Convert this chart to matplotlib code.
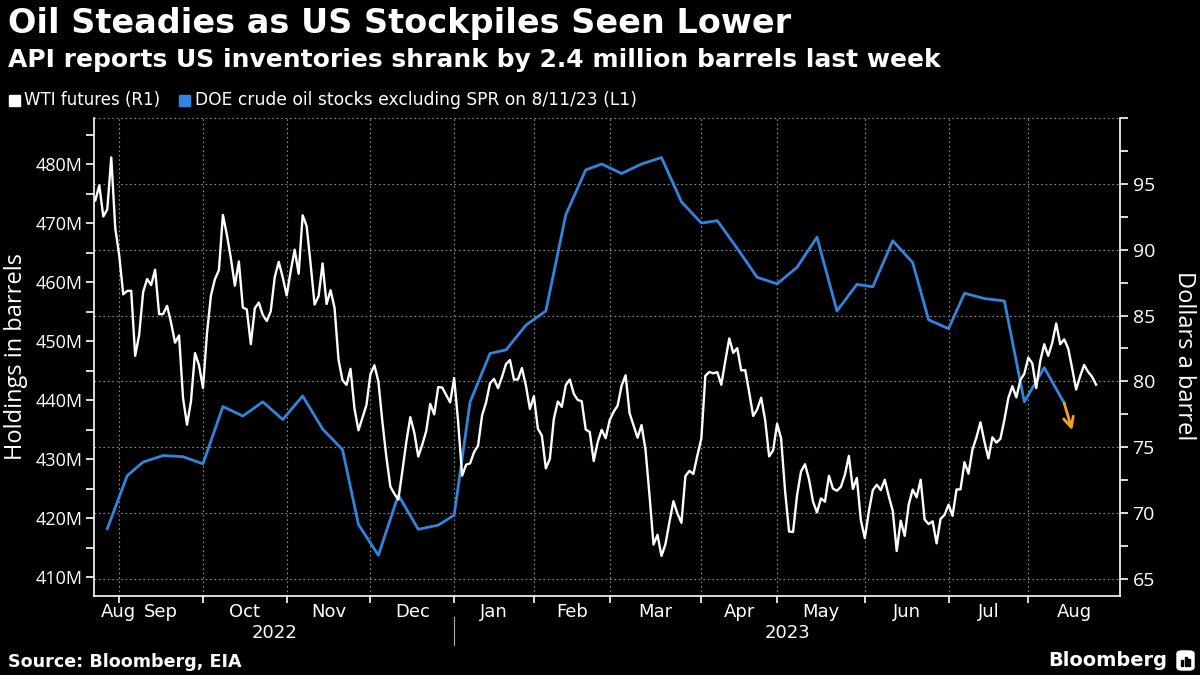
import numpy as np
import pandas as pd
import matplotlib
matplotlib.use('Agg')
from matplotlib import pyplot as plt
from matplotlib import transforms
from matplotlib.patches import Rectangle, FancyBboxPatch

# ---- data -------------------------------------------------------------
# US market holidays (no WTI settlement) inside the plotted year
holidays = ['2022-09-05', '2022-11-24', '2022-12-26', '2023-01-02', '2023-01-16',
            '2023-02-20', '2023-04-07', '2023-05-29', '2023-06-19', '2023-07-04']
first_day = '2022-08-23'
last_day = '2023-08-23'

# WTI front-month, dollars a barrel, one value per trading day
wti = [
    93.74, 94.89, 92.52, 93.06, 97.01, 91.64, 89.55,                       # Aug 22
    86.61, 86.87, 86.88, 81.94, 83.54, 86.79, 87.78, 87.31, 88.48, 85.10,  # Sep 22
    85.11, 85.73, 84.45, 82.94, 83.49, 78.74, 76.71, 78.50, 82.15, 81.23, 79.49,
    83.63, 86.52, 87.76, 88.45, 92.64, 91.13, 89.35, 87.27, 89.11, 85.61,  # Oct 22
    85.46, 82.82, 85.55, 85.98, 85.05, 84.58, 85.32, 87.91, 89.08, 87.90, 86.53,
    88.37, 90.00, 88.17, 92.61, 91.79, 88.91, 85.83, 86.47, 88.96, 85.87,  # Nov 22
    86.92, 85.59, 81.64, 80.08, 79.73, 80.95, 77.94, 76.28, 77.24, 78.20, 80.55,
    81.22, 79.98, 76.93, 74.25, 72.01, 71.46, 71.02, 73.17, 75.39, 77.28,  # Dec 22
    76.11, 74.29, 75.19, 76.23, 78.29, 77.49, 79.56, 79.53, 78.96, 78.40, 80.26,
    76.93, 72.84, 73.67, 73.77, 74.63, 75.12, 77.41, 78.39, 79.86, 80.18,  # Jan 23
    79.48, 80.33, 81.31, 81.62, 80.13, 80.15, 81.01, 79.68, 77.90, 78.87,
    76.41, 75.88, 73.39, 74.11, 77.14, 78.47, 78.06, 79.72, 80.14, 79.06,  # Feb 23
    78.59, 78.49, 76.34, 76.16, 73.95, 75.39, 76.32, 75.68, 77.05,
    77.69, 78.16, 79.68, 80.46, 77.58, 76.66, 75.72, 76.68, 74.80, 71.33,  # Mar 23
    67.61, 68.35, 66.74, 67.64, 69.33, 70.90, 69.96, 69.26, 72.81, 73.20,
    72.97, 74.37, 75.67,
    80.42, 80.71, 80.61, 80.70, 79.74, 81.53, 83.26, 82.16, 82.52, 80.83,  # Apr 23
    80.86, 79.16, 77.37, 77.87, 78.76, 77.07, 74.30, 74.76, 76.78,
    75.66, 71.66, 68.60, 68.56, 71.34, 73.16, 73.71, 72.56, 70.87, 70.04,  # May 23
    71.11, 70.86, 72.83, 71.86, 71.69, 71.99, 72.91, 74.34, 71.83, 72.67,
    69.46, 68.09,
    70.10, 71.74, 72.15, 71.74, 72.53, 71.29, 70.17, 67.12, 69.42, 68.27,  # Jun 23
    70.62, 71.78, 71.19, 72.53, 69.51, 69.16, 69.37, 67.70, 69.56, 69.86, 70.64,
    69.79, 71.79, 71.80, 73.86, 72.99, 74.83, 75.75, 76.89, 75.42, 74.15,  # Jul 23
    75.75, 75.35, 75.63, 77.07, 78.74, 79.63, 78.78, 80.09, 80.58, 81.80,
    81.37, 79.49, 81.55, 82.82, 81.94, 82.92, 84.40, 82.82, 83.19, 82.51,  # Aug 23
    80.99, 79.38, 80.39, 81.25, 80.72, 80.35, 79.75,
]

# DOE commercial crude stocks (ex SPR), million barrels, week ending Friday
doe_first_week = '2022-08-26'
doe_last_week = '2023-08-11'
doe_stocks = [
    418.2, 427.2, 429.5, 430.6, 430.4, 429.2, 438.9, 437.3, 439.7, 436.7,
    440.7, 435.1, 431.6, 418.9, 413.7, 423.9, 418.1, 418.8, 420.5, 439.7,
    447.9, 448.5, 452.7, 455.1, 471.4, 479.0, 480.0, 478.4, 480.0, 481.1,
    473.6, 470.0, 470.4, 465.7, 460.8, 459.7, 462.5, 467.6, 455.1, 459.6,
    459.2, 467.0, 463.3, 453.6, 452.1, 458.1, 457.2, 456.8, 439.7, 445.5,
    439.5,
]
# API estimate marker (drawn as arrow from the last DOE print)
api_date = '2023-08-15'
api_value = 434.9

month_names = ['Aug', 'Sep', 'Oct', 'Nov', 'Dec', 'Jan', 'Feb', 'Mar',
               'Apr', 'May', 'Jun', 'Jul', 'Aug']
month_starts = pd.date_range('2022-09-01', '2023-08-01', freq='MS')
years = ['2022', '2023']

# ---- styling ----------------------------------------------------------
W, H = 1200, 675
BLUE = '#2e86de'
ORANGE = '#f5a31a'
GRID = '#8c8c8c'
SANS = ['Open Sans', 'DejaVu Sans']

# trading-day x axis (Bloomberg skips weekends / holidays)
days = pd.bdate_range(first_day, last_day, freq='C', holidays=holidays)
x_wti = np.arange(len(days))
doe_dates = pd.date_range(doe_first_week, doe_last_week, freq='W-FRI')
x_doe = days.searchsorted(doe_dates, side='right') - 1
x_api = days.searchsorted(pd.Timestamp(api_date), side='right') - 1
bounds = days.searchsorted(month_starts) - 1   # last trading day of prev month

fig = plt.figure(figsize=(W / 100, H / 100), dpi=100, facecolor='black')
ax = fig.add_axes([94 / W, 1 - 596 / H, (1120 - 94) / W, (596 - 118) / H])
ax.set_facecolor('black')
ax2 = ax.twinx()

x_min, x_max = -0.33, 257.0
ax.set_xlim(x_min, x_max)
ax.set_ylim(406.8, 487.8)
ax2.set_ylim(63.7, 100.0)

# gridlines (drawn on the lower axes so the lines sit above them)
right_ticks = np.arange(65, 101, 5)
hline_tr = transforms.blended_transform_factory(ax.transAxes, ax2.transData)
for v in right_ticks:
    ax.plot([0, 1], [v, v], transform=hline_tr, color=GRID, lw=0.8,
            ls=(0, (1.5, 2.5)), zorder=0.5)
for b in bounds:
    ax.axvline(b, color=GRID, lw=0.8, ls=(0, (1.5, 2.5)), zorder=0.5)

ax.plot(x_doe, doe_stocks, color=BLUE, lw=2.0, zorder=3)
ax.annotate('', xy=(x_api, api_value), xytext=(x_doe[-1], doe_stocks[-1]),
            arrowprops=dict(arrowstyle='->', color=ORANGE, lw=2.0,
                            mutation_scale=18, shrinkA=0, shrinkB=0), zorder=4)
ax2.plot(x_wti, wti, color='white', lw=1.7, zorder=5)

# spines
for a in (ax, ax2):
    for s in a.spines.values():
        s.set_visible(False)
ax.spines['left'].set_visible(True)
ax.spines['bottom'].set_visible(True)
ax2.spines['right'].set_visible(True)
for s in (ax.spines['left'], ax.spines['bottom'], ax2.spines['right']):
    s.set_color('white')
    s.set_linewidth(1.2)

# left axis
ax.set_yticks(np.arange(410, 481, 10))
ax.set_yticklabels([f'{v}M' for v in range(410, 481, 10)])
ax.set_yticks(np.arange(415, 486, 10), minor=True)
ax.tick_params(axis='y', which='both', colors='white', direction='out',
               length=6, width=1.2, labelsize=13, labelfontfamily='Open Sans', pad=2)

# right axis
ax2.set_yticks(np.arange(65, 96, 5))
ax2.set_yticks(list(np.arange(67.5, 98, 5)) + [100], minor=True)
ax2.tick_params(axis='y', which='both', colors='white', direction='out',
                length=6, width=1.2, labelsize=14, labelfontfamily='Open Sans', pad=3)

# x axis: ticks at month boundaries, labels at month centres
edges = [x_min] + list(bounds) + [x_max]
centres = [(a + b) / 2 for a, b in zip(edges[:-1], edges[1:])]
# first month is only a few days wide: keep its label clear of the spine
centres[0] = max(centres[0], bounds[0] - 0.2)
ax.xaxis.remove_overlapping_locs = False
ax.set_xticks(bounds)
ax.set_xticklabels([])
ax.set_xticks(centres, minor=True)
ax.set_xticklabels(month_names, minor=True)
ax.tick_params(axis='x', which='major', colors='white', direction='out',
               length=5, width=1.2)
ax.tick_params(axis='x', which='minor', colors='white', length=0,
               labelsize=13, pad=5)

jan = bounds[4]
xt = transforms.blended_transform_factory(ax.transData, ax.transAxes)
ax.text((x_min + jan) / 2, -0.078, years[0], transform=xt, ha='center',
        va='center', color='white', fontsize=13)
ax.text((jan + x_max) / 2, -0.078, years[1], transform=xt, ha='center',
        va='center', color='white', fontsize=13)
ax.plot([jan, jan], [-0.044, -0.103], transform=xt, color='#aaaaaa',
        lw=0.8, clip_on=False)

# ---- header / footer --------------------------------------------------
renderer = fig.canvas.get_renderer()


def fig_text(x, y, s, width=None, **kw):
    t = fig.text(x / W, 1 - y / H, s, color='white', **kw)
    if width is not None:
        w = t.get_window_extent(renderer=renderer).width
        t.set_fontsize(t.get_fontsize() * width / w)
    return t


fig_text(8, 23, 'Oil Steadies as US Stockpiles Seen Lower', width=782,
         fontsize=24, fontweight='bold', va='center', family='DejaVu Sans')
fig_text(8, 60, 'API reports US inventories shrank by 2.4 million barrels last week',
         width=932, fontsize=18, fontweight='bold', va='center', family='DejaVu Sans')

fig.add_artist(Rectangle((9 / W, 1 - 106 / H), 11 / W, 11 / H,
                         transform=fig.transFigure, color='white'))
fig_text(24, 100, 'WTI futures (R1)', width=136, fontsize=11, va='center',
         family='DejaVu Sans')
fig.add_artist(Rectangle((179 / W, 1 - 106 / H), 11 / W, 11 / H,
                         transform=fig.transFigure, color=BLUE))
fig_text(195, 100, 'DOE crude oil stocks excluding SPR on 8/11/23 (L1)', width=442,
         fontsize=11, va='center', family='DejaVu Sans')

fig_text(16, 356, 'Holdings in barrels', width=None, fontsize=17, rotation=90,
         ha='center', va='center', family=SANS)
fig_text(1184, 356, 'Dollars a barrel', width=None, fontsize=17, rotation=270,
         ha='center', va='center', family=SANS)

fig_text(8, 662, 'Source: Bloomberg, EIA', width=232, fontsize=13,
         fontweight='bold', va='center', family='DejaVu Sans')
fig_text(1048, 660, 'Bloomberg', width=119, fontsize=15, fontweight='bold',
         va='center', family='DejaVu Sans')
fig.add_artist(FancyBboxPatch((1177 / W, 1 - 670 / H), 17 / W, 19 / H,
                              boxstyle='round,pad=0,rounding_size=0.004',
                              transform=fig.transFigure, color='white'))
for bx, bh in zip([1181, 1184.5, 1188], [6, 9, 7]):
    fig.add_artist(Rectangle((bx / W, 1 - 666 / H), 2 / W, bh / H,
                             transform=fig.transFigure, color='black'))

fig.savefig('out.png', dpi=100, facecolor='black')
